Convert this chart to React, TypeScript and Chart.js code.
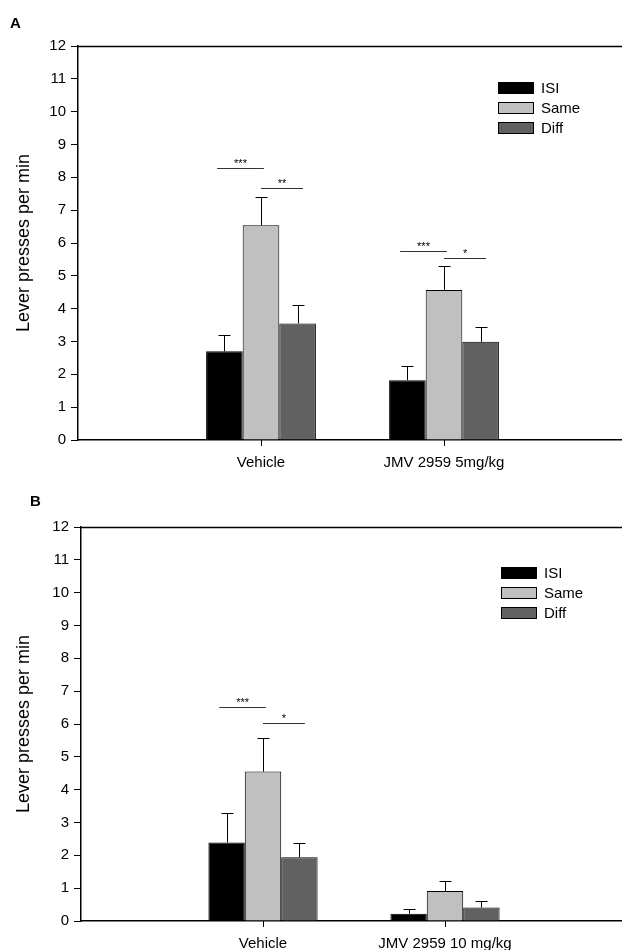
import React, { useEffect, useRef } from "react";
import { Chart, registerables } from "chart.js";

Chart.register(...registerables);

// ---------- Data ----------
const seriesNames = ["ISI", "Same", "Diff"];
const seriesColors = ["#000000", "#c0c0c0", "#616161"];

const categoriesA = ["", "Vehicle", "JMV 2959 5mg/kg", ""];
const isiA = [null, 2.7, 1.82, null];
const sameA = [null, 6.54, 4.57, null];
const diffA = [null, 3.55, 2.99, null];
const isiErrA = [null, 0.5, 0.43, null];
const sameErrA = [null, 0.85, 0.74, null];
const diffErrA = [null, 0.57, 0.46, null];

const categoriesB = ["", "Vehicle", "JMV 2959 10 mg/kg", ""];
const isiB = [null, 2.39, 0.22, null];
const sameB = [null, 4.55, 0.91, null];
const diffB = [null, 1.94, 0.41, null];
const isiErrB = [null, 0.91, 0.15, null];
const sameErrB = [null, 1.01, 0.3, null];
const diffErrB = [null, 0.44, 0.19, null];

const yTicks = [0, 1, 2, 3, 4, 5, 6, 7, 8, 9, 10, 11, 12];

// significance brackets: category index, from series, to series, y value, label
const sigA = [
  { cat: 1, from: 0, to: 1, y: 8.28, label: "***" },
  { cat: 1, from: 1, to: 2, y: 7.68, label: "**" },
  { cat: 2, from: 0, to: 1, y: 5.76, label: "***" },
  { cat: 2, from: 1, to: 2, y: 5.55, label: "*" },
];
const sigB = [
  { cat: 1, from: 0, to: 1, y: 6.51, label: "***" },
  { cat: 1, from: 1, to: 2, y: 6.03, label: "*" },
];

const FONT = "Arial, 'Liberation Sans', sans-serif";

const errorBarPlugin = {
  id: "errorBars",
  afterDatasetsDraw(chart: any) {
    const ctx = chart.ctx;
    const y = chart.scales.y;
    ctx.save();
    ctx.strokeStyle = "#000";
    ctx.lineWidth = 1;
    chart.data.datasets.forEach((ds: any, di: number) => {
      const meta = chart.getDatasetMeta(di);
      meta.data.forEach((bar: any, i: number) => {
        const v = ds.data[i];
        const e = ds.errors ? ds.errors[i] : null;
        if (v == null || e == null) return;
        const x = Math.round(bar.x) + 0.5;
        const yTop = y.getPixelForValue(v);
        const yErr = Math.round(y.getPixelForValue(v + e)) + 0.5;
        ctx.beginPath();
        ctx.moveTo(x, yTop);
        ctx.lineTo(x, yErr);
        ctx.moveTo(x - 6, yErr);
        ctx.lineTo(x + 6, yErr);
        ctx.stroke();
      });
    });
    ctx.restore();
  },
};

const frameAndSigPlugin = {
  id: "frameSig",
  afterDraw(chart: any) {
    const ctx = chart.ctx;
    const area = chart.chartArea;
    const y = chart.scales.y;
    const x = chart.scales.x;
    ctx.save();
    // top frame line
    ctx.strokeStyle = "#000";
    ctx.lineWidth = 1.5;
    ctx.beginPath();
    ctx.moveTo(area.left, Math.round(area.top) + 0.5);
    ctx.lineTo(area.right + 20, Math.round(area.top) + 0.5);
    ctx.stroke();

    // x tick marks for non-empty categories
    ctx.lineWidth = 1;
    chart.data.labels.forEach((lab: string, i: number) => {
      if (!lab) return;
      const px = Math.round(x.getPixelForTick(i)) + 0.5;
      ctx.beginPath();
      ctx.moveTo(px, area.bottom);
      ctx.lineTo(px, area.bottom + 6);
      ctx.stroke();
    });

    // significance lines
    const sig = chart.options.plugins.frameSig.sig || [];
    ctx.lineWidth = 1;
    ctx.strokeStyle = "#333";
    ctx.fillStyle = "#000";
    ctx.font = "11px " + FONT;
    ctx.textAlign = "center";
    ctx.textBaseline = "bottom";
    sig.forEach((s: any) => {
      const a = chart.getDatasetMeta(s.from).data[s.cat];
      const b = chart.getDatasetMeta(s.to).data[s.cat];
      const w = a.width;
      let x1, x2;
      if (s.from === 0) {
        x1 = a.x - w * 0.2;
        x2 = b.x + w * 0.08;
      } else {
        x1 = a.x;
        x2 = b.x + w * 0.15;
      }
      const yy = Math.round(y.getPixelForValue(s.y)) + 0.5;
      ctx.beginPath();
      ctx.moveTo(x1, yy);
      ctx.lineTo(x2, yy);
      ctx.stroke();
      ctx.fillText(s.label, (x1 + x2) / 2, yy + 1);
    });

    // legend
    const lg = chart.options.plugins.frameSig.legend;
    ctx.font = "15px " + FONT;
    ctx.textAlign = "left";
    ctx.textBaseline = "middle";
    chart.data.datasets.forEach((ds: any, i: number) => {
      const top = lg.y + i * 20;
      ctx.fillStyle = ds.backgroundColor;
      ctx.fillRect(lg.x, top, 36, 12);
      ctx.strokeStyle = "#000";
      ctx.lineWidth = 1;
      ctx.strokeRect(lg.x + 0.5, top + 0.5, 35, 11);
      ctx.fillStyle = "#000";
      ctx.fillText(ds.label, lg.x + 43, top + 6.5);
    });

    // panel letter
    const pl = chart.options.plugins.frameSig.letter;
    ctx.font = "bold 15px " + FONT;
    ctx.textAlign = "left";
    ctx.textBaseline = "alphabetic";
    ctx.fillText(pl.text, pl.x, pl.y);
    ctx.restore();
  },
};

function makeConfig(
  cats: string[],
  series: (number | null)[][],
  errs: (number | null)[][],
  sig: any[],
  yAxisWidth: number,
  topPad: number,
  xAxisHeight: number,
  legend: { x: number; y: number },
  letter: { text: string; x: number; y: number }
) {
  return {
    type: "bar" as const,
    data: {
      labels: cats,
      datasets: series.map((d, i) => ({
        label: seriesNames[i],
        data: d,
        errors: errs[i],
        backgroundColor: seriesColors[i],
        borderColor: "#000",
        borderWidth: 1,
        borderSkipped: "bottom",
        categoryPercentage: 0.6,
        barPercentage: 1.0,
      })),
    },
    options: {
      animation: false,
      responsive: false,
      maintainAspectRatio: false,
      layout: { padding: { top: topPad, left: 0, right: 13, bottom: 0 } },
      plugins: {
        legend: { display: false },
        tooltip: { enabled: false },
        frameSig: { sig, legend, letter },
      },
      scales: {
        x: {
          type: "category",
          offset: false,
          grid: {
            display: false,
            offset: false,
            drawOnChartArea: false,
            drawTicks: true,
            tickLength: 6,
          },
          border: { display: true, color: "#000", width: 1.5 },
          ticks: {
            color: "#000",
            font: { family: FONT, size: 15 },
            padding: 8,
            maxRotation: 0,
            autoSkip: false,
          },
          afterFit: (s: any) => {
            s.height = xAxisHeight;
          },
        },
        y: {
          min: 0,
          max: 12,
          afterBuildTicks: (s: any) => {
            s.ticks = yTicks.map((v) => ({ value: v }));
          },
          grid: {
            display: true,
            drawOnChartArea: false,
            drawTicks: true,
            tickLength: 7,
            color: "#000",
          },
          border: { display: true, color: "#000", width: 1.5 },
          ticks: {
            color: "#000",
            font: { family: FONT, size: 15 },
            padding: 5,
          },
          title: {
            display: true,
            text: "Lever presses per min",
            color: "#000",
            font: { family: FONT, size: 18 },
            padding: { top: 13, bottom: 0 },
          },
          afterFit: (s: any) => {
            s.width = yAxisWidth;
          },
        },
      },
    },
    plugins: [errorBarPlugin, frameAndSigPlugin],
  };
}

function Panel(props: { config: any; top: number }) {
  const ref = useRef<HTMLCanvasElement>(null);
  useEffect(() => {
    const chart = new Chart(ref.current as HTMLCanvasElement, props.config);
    return () => chart.destroy();
  }, []);
  return (
    <canvas
      ref={ref}
      width={640}
      height={475}
      style={{ position: "absolute", left: 0, top: props.top, width: 640, height: 475 }}
    />
  );
}

export default function App() {
  const configA = makeConfig(
    categoriesA,
    [isiA, sameA, diffA],
    [isiErrA, sameErrA, diffErrA],
    sigA,
    78,
    46,
    35,
    { x: 498, y: 82 },
    { text: "A", x: 10, y: 28 }
  );
  const configB = makeConfig(
    categoriesB,
    [isiB, sameB, diffB],
    [isiErrB, sameErrB, diffErrB],
    sigB,
    81,
    52,
    29,
    { x: 501, y: 567 - 475 },
    { text: "B", x: 30, y: 506 - 475 }
  );
  return (
    <div
      style={{
        position: "fixed",
        left: 0,
        top: 0,
        width: 622,
        height: 950,
        overflow: "hidden",
        background: "#fff",
      }}
    >
      <Panel config={configA} top={0} />
      <Panel config={configB} top={475} />
    </div>
  );
}
